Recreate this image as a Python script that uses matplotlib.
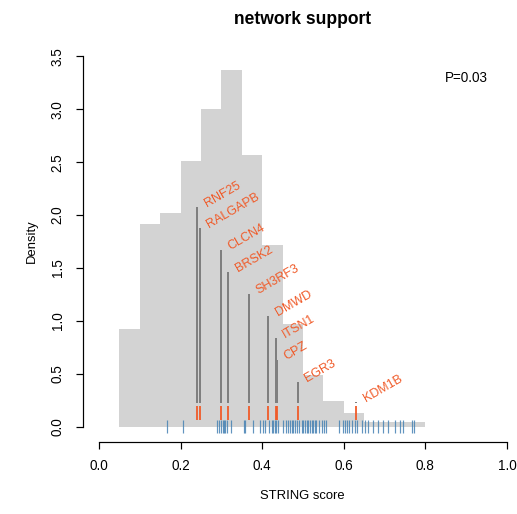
import matplotlib
matplotlib.use("Agg")
import matplotlib.pyplot as plt
import numpy as np

plt.rcParams['font.family'] = ['Liberation Sans', 'DejaVu Sans']

# histogram of the background scores (density per 0.05 bin)
bin_edges = [0.05, 0.10, 0.15, 0.20, 0.25, 0.30, 0.35, 0.40, 0.45, 0.50,
             0.55, 0.60, 0.65, 0.70, 0.75]
bin_density = [0.92, 1.92, 2.02, 2.51, 3.00, 3.37, 2.57, 1.72, 0.97, 0.49,
               0.245, 0.126, 0.04, 0.04, 0.04]

# rug of observed scores
rug_scores = [0.167, 0.205, 0.290, 0.294, 0.298, 0.303, 0.306, 0.309, 0.313, 0.324,
              0.356, 0.358, 0.378, 0.395, 0.401, 0.407, 0.416, 0.423, 0.427, 0.431,
              0.435, 0.439, 0.452, 0.458, 0.464, 0.468, 0.472, 0.476, 0.480, 0.485,
              0.491, 0.497, 0.501, 0.505, 0.509, 0.513, 0.517, 0.521, 0.525, 0.529,
              0.533, 0.538, 0.546, 0.552, 0.556, 0.589, 0.597, 0.603, 0.607, 0.613,
              0.619, 0.627, 0.632, 0.644, 0.652, 0.660, 0.672, 0.685, 0.697, 0.709,
              0.725, 0.738, 0.746, 0.766, 0.773]

# highlighted genes
genes = ['RNF25', 'RALGAPB', 'CLCN4', 'BRSK2', 'SH3RF3', 'DMWD', 'ITSN1', 'CPZ', 'EGR3', 'KDM1B']
gene_scores = [0.241, 0.2475, 0.300, 0.317, 0.367, 0.415, 0.433, 0.436, 0.487, 0.631]
label_heights = [2.08, 1.88, 1.67, 1.46, 1.25, 1.05, 0.835, 0.63, 0.425, 0.235]

p_text = "P=0.03"

W, H = 517, 514
fig = plt.figure(figsize=(W / 72, H / 72), dpi=72)
ax = fig.add_axes([82.7 / W, 1 - 441.5 / H, 440.6 / W, 399.9 / H])
ax.set_xlim(-0.04, 1.04)
ax.set_ylim(-0.14, 3.64)

orange = '#F05A28'

ax.bar(bin_edges, bin_density, width=0.05, align='edge', color='#D3D3D3', linewidth=0, zorder=1)
ax.vlines(rug_scores, -0.06, 0.063, color='#4682B4', lw=1.2, alpha=0.85, zorder=2)
ax.vlines(gene_scores, 0.22, label_heights, color='#7F7F7F', lw=2, zorder=3)
ax.vlines(gene_scores, 0.065, 0.195, color=orange, lw=1.8, zorder=3)
for g, x, h in zip(genes, gene_scores, label_heights):
    ax.text(x + 0.023, h, g, color=orange, fontsize=12.5, rotation=30,
            rotation_mode='anchor', ha='left', va='baseline', zorder=4)

ax.text(0.9, 3.3, p_text, fontsize=13.5, ha='center', va='center')

# R-style axes
for s in ['top', 'right']:
    ax.spines[s].set_visible(False)
ax.spines['left'].set_bounds(0, 3.5)
ax.spines['bottom'].set_bounds(0, 1)
ax.spines['bottom'].set_position(('data', -0.14))
for s in ['left', 'bottom']:
    ax.spines[s].set_linewidth(1.2)
ax.set_xticks([0.0, 0.2, 0.4, 0.6, 0.8, 1.0])
ax.set_yticks([0.0, 0.5, 1.0, 1.5, 2.0, 2.5, 3.0, 3.5])
ax.set_xticklabels(['0.0', '0.2', '0.4', '0.6', '0.8', '1.0'])
ax.set_yticklabels(['0.0', '0.5', '1.0', '1.5', '2.0', '2.5', '3.0', '3.5'],
                   rotation=90, va='center')
ax.tick_params(length=7, width=1.2, labelsize=13.5, pad=11)

fig.text(302.7 / W, 1 - 20 / H, 'network support', fontsize=17.5, fontweight='bold',
         ha='center', va='center')
fig.text(302.7 / W, 1 - 496 / H, 'STRING score', fontsize=13, ha='center', va='center')
fig.text(32 / W, 1 - 241.5 / H, 'Density', fontsize=13, rotation=90, ha='center', va='center')

fig.savefig('out.png', dpi=72)
